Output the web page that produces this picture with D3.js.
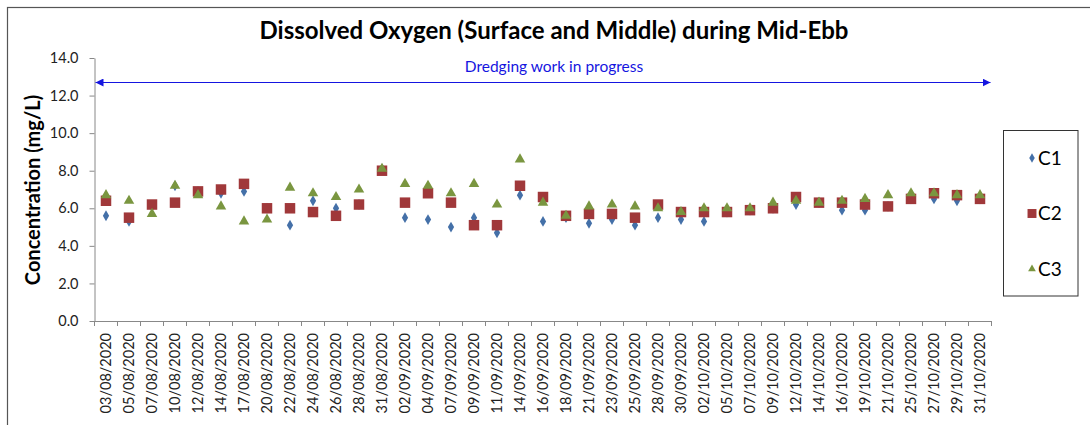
<!DOCTYPE html>
<html>
<head>
<meta charset="utf-8">
<script src="https://cdn.jsdelivr.net/npm/d3@7"></script>
<style>
  body { margin: 0; background: #fff; }
  svg { font-family: Lato, "Open Sans", sans-serif; }
</style>
</head>
<body>
<svg id="chart" width="1090" height="425"></svg>
<script>
// sampling dates
const dates = ["03/08/2020","05/08/2020","07/08/2020","10/08/2020","12/08/2020","14/08/2020",
  "17/08/2020","20/08/2020","22/08/2020","24/08/2020","26/08/2020","28/08/2020","31/08/2020",
  "02/09/2020","04/09/2020","07/09/2020","09/09/2020","11/09/2020","14/09/2020","16/09/2020",
  "18/09/2020","21/09/2020","23/09/2020","25/09/2020","28/09/2020","30/09/2020","02/10/2020",
  "05/10/2020","07/10/2020","09/10/2020","12/10/2020","14/10/2020","16/10/2020","19/10/2020",
  "21/10/2020","25/10/2020","27/10/2020","29/10/2020","31/10/2020"];

const c1 = [5.6,5.3,6.1,7.2,6.9,6.8,6.9,6.0,5.1,6.4,6.0,6.2,8.1,
  5.5,5.4,5.0,5.5,4.7,6.7,5.3,5.5,5.2,5.4,5.1,5.5,5.4,5.3,
  5.8,5.9,6.0,6.2,6.3,5.9,5.9,6.1,6.5,6.5,6.4,6.5];
const c2 = [6.4,5.5,6.2,6.3,6.9,7.0,7.3,6.0,6.0,5.8,5.6,6.2,8.0,
  6.3,6.8,6.3,5.1,5.1,7.2,6.6,5.6,5.7,5.7,5.5,6.2,5.8,5.8,
  5.8,5.9,6.0,6.6,6.3,6.3,6.2,6.1,6.5,6.8,6.7,6.5];
const c3 = [6.7,6.4,5.7,7.2,6.7,6.1,5.3,5.4,7.1,6.8,6.6,7.0,8.1,
  7.3,7.2,6.8,7.3,6.2,8.6,6.3,5.6,6.1,6.2,6.1,6.0,5.8,6.0,
  6.0,6.0,6.3,6.4,6.3,6.4,6.5,6.7,6.8,6.8,6.7,6.7];

const yTicks = [0, 2, 4, 6, 8, 10, 12, 14];

const series = [
  { name: "C1", values: c1, symbol: d3.symbolDiamond, size: 34, color: "#4470A8" },
  { name: "C2", values: c2, symbol: d3.symbolSquare, size: 110, color: "#A0383A" },
  { name: "C3", values: c3, symbol: d3.symbolTriangle, size: 48, color: "#7A9640" }
];

const svg = d3.select("#chart");
const margin = { left: 94.5, right: 1090 - 991.5, top: 58, bottom: 425 - 321 };
const width = 1090;
const height = 425;

// outer chart frame
svg.append("rect")
  .attr("x", 7.5).attr("y", 7.5)
  .attr("width", 1100).attr("height", 440)
  .attr("fill", "none").attr("stroke", "#555").attr("stroke-width", 1.2);

const x = d3.scaleBand()
  .domain(dates)
  .range([margin.left, width - margin.right]);

const y = d3.scaleLinear()
  .domain([0, 14])
  .range([height - margin.bottom, margin.top]);

// Axes
const yAxis = svg.append("g")
  .attr("transform", `translate(${margin.left},0)`)
  .call(d3.axisLeft(y).tickValues(yTicks).tickFormat(d3.format(".1f")).tickSize(5).tickSizeOuter(0));

const xAxis = svg.append("g")
  .attr("transform", `translate(0,${height - margin.bottom})`)
  .call(d3.axisBottom(x).tickSize(0).tickSizeOuter(0));

// category boundary ticks
xAxis.selectAll(".bound")
  .data(d3.range(dates.length + 1))
  .enter()
  .append("line")
  .attr("class", "bound")
  .attr("x1", i => margin.left + i * x.step())
  .attr("x2", i => margin.left + i * x.step())
  .attr("y1", 0).attr("y2", 5);

[yAxis, xAxis].forEach(a => {
  a.selectAll("path, line").attr("stroke", "#888");
  a.selectAll("text").attr("fill", "#222").style("font-size", "14.5px")
    .style("font-family", "Lato, 'Open Sans', sans-serif");
});
yAxis.selectAll("text").attr("x", -16);

xAxis.selectAll(".tick text")
  .attr("transform", "rotate(-90)")
  .attr("text-anchor", "end")
  .attr("dy", "0.35em")
  .attr("x", -12)
  .attr("y", 0);

// Title
svg.append("text")
  .attr("x", 554).attr("y", 39)
  .attr("text-anchor", "middle")
  .style("font-size", "24px").style("font-weight", "bold")
  .text("Dissolved Oxygen (Surface and Middle) during Mid-Ebb");

// Y label
svg.append("text")
  .attr("transform", "translate(40,190) rotate(-90)")
  .attr("text-anchor", "middle")
  .style("font-size", "20px").style("font-weight", "bold")
  .text("Concentration (mg/L)");

// Dredging annotation
const defs = svg.append("defs");
["start", "end"].forEach(k => {
  defs.append("marker")
    .attr("id", "arr-" + k)
    .attr("viewBox", "0 0 10 10")
    .attr("refX", k === "end" ? 10 : 0).attr("refY", 5)
    .attr("markerWidth", 8).attr("markerHeight", 8)
    .attr("markerUnits", "userSpaceOnUse")
    .attr("orient", "auto")
    .append("path")
    .attr("d", k === "end" ? "M0,0 L10,5 L0,10 Z" : "M10,0 L0,5 L10,10 Z")
    .attr("fill", "#1515E0");
});
svg.append("line")
  .attr("x1", x.range()[0] + 1).attr("x2", x.range()[1] - 1)
  .attr("y1", 82.5).attr("y2", 82.5)
  .attr("stroke", "#1515E0").attr("stroke-width", 1.2)
  .attr("marker-start", "url(#arr-start)")
  .attr("marker-end", "url(#arr-end)");
svg.append("text")
  .attr("x", 554).attr("y", 72)
  .attr("text-anchor", "middle")
  .attr("fill", "#1515E0")
  .style("font-size", "15.5px")
  .text("Dredging work in progress");

// Points
const sym = d3.symbol();
series.forEach(s => {
  svg.append("g")
    .selectAll("path")
    .data(s.values)
    .enter()
    .append("path")
    .attr("transform", (d, i) => `translate(${x(dates[i]) + x.bandwidth() / 2},${y(d)})`)
    .attr("d", sym.type(s.symbol).size(s.size)())
    .attr("fill", s.color);
});

// Legend
const legend = svg.append("g").attr("id", "legend");
legend.append("rect")
  .attr("x", 1003.5).attr("y", 130.5)
  .attr("width", 74.5).attr("height", 165.5)
  .attr("fill", "#fff").attr("stroke", "#333");

const entry = legend.selectAll("g.legend_entry")
  .data(series)
  .enter()
  .append("g")
  .attr("class", "legend_entry")
  .attr("transform", (d, i) => `translate(1032,${158 + i * 55.5})`);

entry.append("path")
  .attr("d", d => d3.symbol().type(d.symbol).size(d.name === "C2" ? 80 : 26)())
  .attr("fill", d => d.color);

entry.append("text")
  .attr("x", 6).attr("dy", "0.36em")
  .style("font-size", "19px")
  .text(d => d.name);
</script>
</body>
</html>
